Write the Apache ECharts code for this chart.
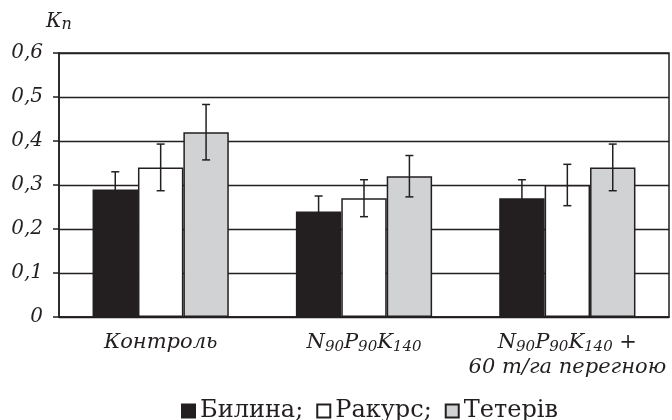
<!DOCTYPE html>
<html lang="uk">
<head>
    <meta charset="UTF-8">
    <title>Kn</title>
    <style>
        html, body { margin: 0; padding: 0; background: #fff; }
    </style>
</head>
<body>
    <div id="box" style="width: 672px;height: 420px;"></div>
</body>
<script src="https://cdn.jsdelivr.net/npm/echarts@6/dist/echarts.min.js"></script>
<script>
    // дані
    var categories = ['Контроль', 'N90P90K140', 'N90P90K140 +\n60 т/га перегною'];
    var seriesNames = ['Билина', 'Ракурс', 'Тетерів'];
    var bylyna = [0.29, 0.24, 0.27];
    var bylynaErr = [0.04, 0.035, 0.042];
    var rakurs = [0.34, 0.27, 0.30];
    var rakursErr = [0.053, 0.042, 0.047];
    var teteriv = [0.42, 0.32, 0.34];
    var teterivErr = [0.063, 0.047, 0.053];

    var ink = '#231f20';
    var colors = ['#231f20', '#ffffff', '#d1d2d4'];
    var serif = 'DejaVu Serif';
    var gapRatio = 0.33;

    var values = [bylyna, rakurs, teteriv];
    var errors = [bylynaErr, rakursErr, teterivErr];

    var box = echarts.init(document.getElementById('box'));

    function errorSeries(idx) {
        var data = values[idx].map(function (v, i) {
            return [i, v - errors[idx][i], v + errors[idx][i]];
        });
        return {
            type: 'custom',
            name: seriesNames[idx] + '_err',
            z: 10,
            silent: true,
            encode: { x: 0, y: [1, 2] },
            data: data,
            renderItem: function (params, api) {
                var cat = api.value(0);
                var band = api.size([1, 0])[0];
                var bw = band * (1 - gapRatio) / 3;
                var hi = api.coord([cat, api.value(2)]);
                var lo = api.coord([cat, api.value(1)]);
                var x = hi[0] + (idx - 1) * bw;
                var cap = 4;
                var st = { stroke: ink, lineWidth: 1.5 };
                return {
                    type: 'group',
                    children: [
                        { type: 'line', shape: { x1: x, y1: hi[1], x2: x, y2: lo[1] }, style: st },
                        { type: 'line', shape: { x1: x - cap, y1: hi[1], x2: x + cap, y2: hi[1] }, style: st },
                        { type: 'line', shape: { x1: x - cap, y1: lo[1], x2: x + cap, y2: lo[1] }, style: st }
                    ]
                };
            }
        };
    }

    var series = [];
    values.forEach(function (arr, idx) {
        series.push({
            name: seriesNames[idx],
            type: 'bar',
            data: arr,
            barGap: '0%',
            barCategoryGap: '33%',
            itemStyle: { color: colors[idx], borderColor: ink, borderWidth: 1.5 }
        });
    });
    values.forEach(function (arr, idx) {
        series.push(errorSeries(idx));
    });

    var option = {
        backgroundColor: '#fff',
        animation: false,
        grid: {
            left: 59, right: 3, top: 53, bottom: 103,
            show: true, borderColor: ink, borderWidth: 1.5
        },
        legend: {
            data: seriesNames,
            left: 176,
            top: 394,
            icon: 'rect',
            itemWidth: 13,
            itemHeight: 13,
            itemGap: 13,
            formatter: function (name) {
                return name === 'Тетерів' ? name : name + ';';
            },
            textStyle: { fontFamily: serif, fontSize: 24, color: ink }
        },
        xAxis: {
            type: 'category',
            data: categories,
            axisLine: { lineStyle: { color: ink, width: 1.5 } },
            axisTick: { length: 5, lineStyle: { color: ink, width: 1.5 } },
            axisLabel: {
                margin: 13,
                interval: 0,
                formatter: function (v) {
                    return v.split('\n').map(function (line) {
                        return '{m|' + line.replace(/([NPK])(\d+)/g, '$1}{s|$2}{m|') + '}';
                    }).join('\n');
                },
                rich: {
                    m: { fontFamily: serif, fontStyle: 'italic', fontSize: 21, color: ink, lineHeight: 25 },
                    s: { fontFamily: serif, fontStyle: 'italic', fontSize: 15, color: ink, lineHeight: 16, verticalAlign: 'bottom' }
                }
            }
        },
        yAxis: {
            type: 'value',
            min: 0,
            max: 0.6,
            interval: 0.1,
            name: '{m|К}{s|п}',
            nameLocation: 'end',
            nameGap: 20,
            nameTextStyle: {
                align: 'left',
                padding: [0, 0, 0, -13],
                rich: {
                    m: { fontFamily: serif, fontStyle: 'italic', fontSize: 20, color: ink, lineHeight: 22 },
                    s: { fontFamily: serif, fontStyle: 'italic', fontSize: 16, color: ink, lineHeight: 16, verticalAlign: 'bottom' }
                }
            },
            axisLine: { show: true, lineStyle: { color: ink, width: 1.5 } },
            axisTick: { show: true, length: 6, lineStyle: { color: ink, width: 1.5 } },
            splitLine: { lineStyle: { color: ink, width: 1.3 } },
            axisLabel: {
                margin: 16,
                fontFamily: serif,
                fontStyle: 'italic',
                fontSize: 20,
                color: ink,
                formatter: function (v) {
                    return v === 0 ? '0' : v.toFixed(1).replace('.', ',');
                }
            }
        },
        series: series
    };
    box.setOption(option);
</script>
</html>
